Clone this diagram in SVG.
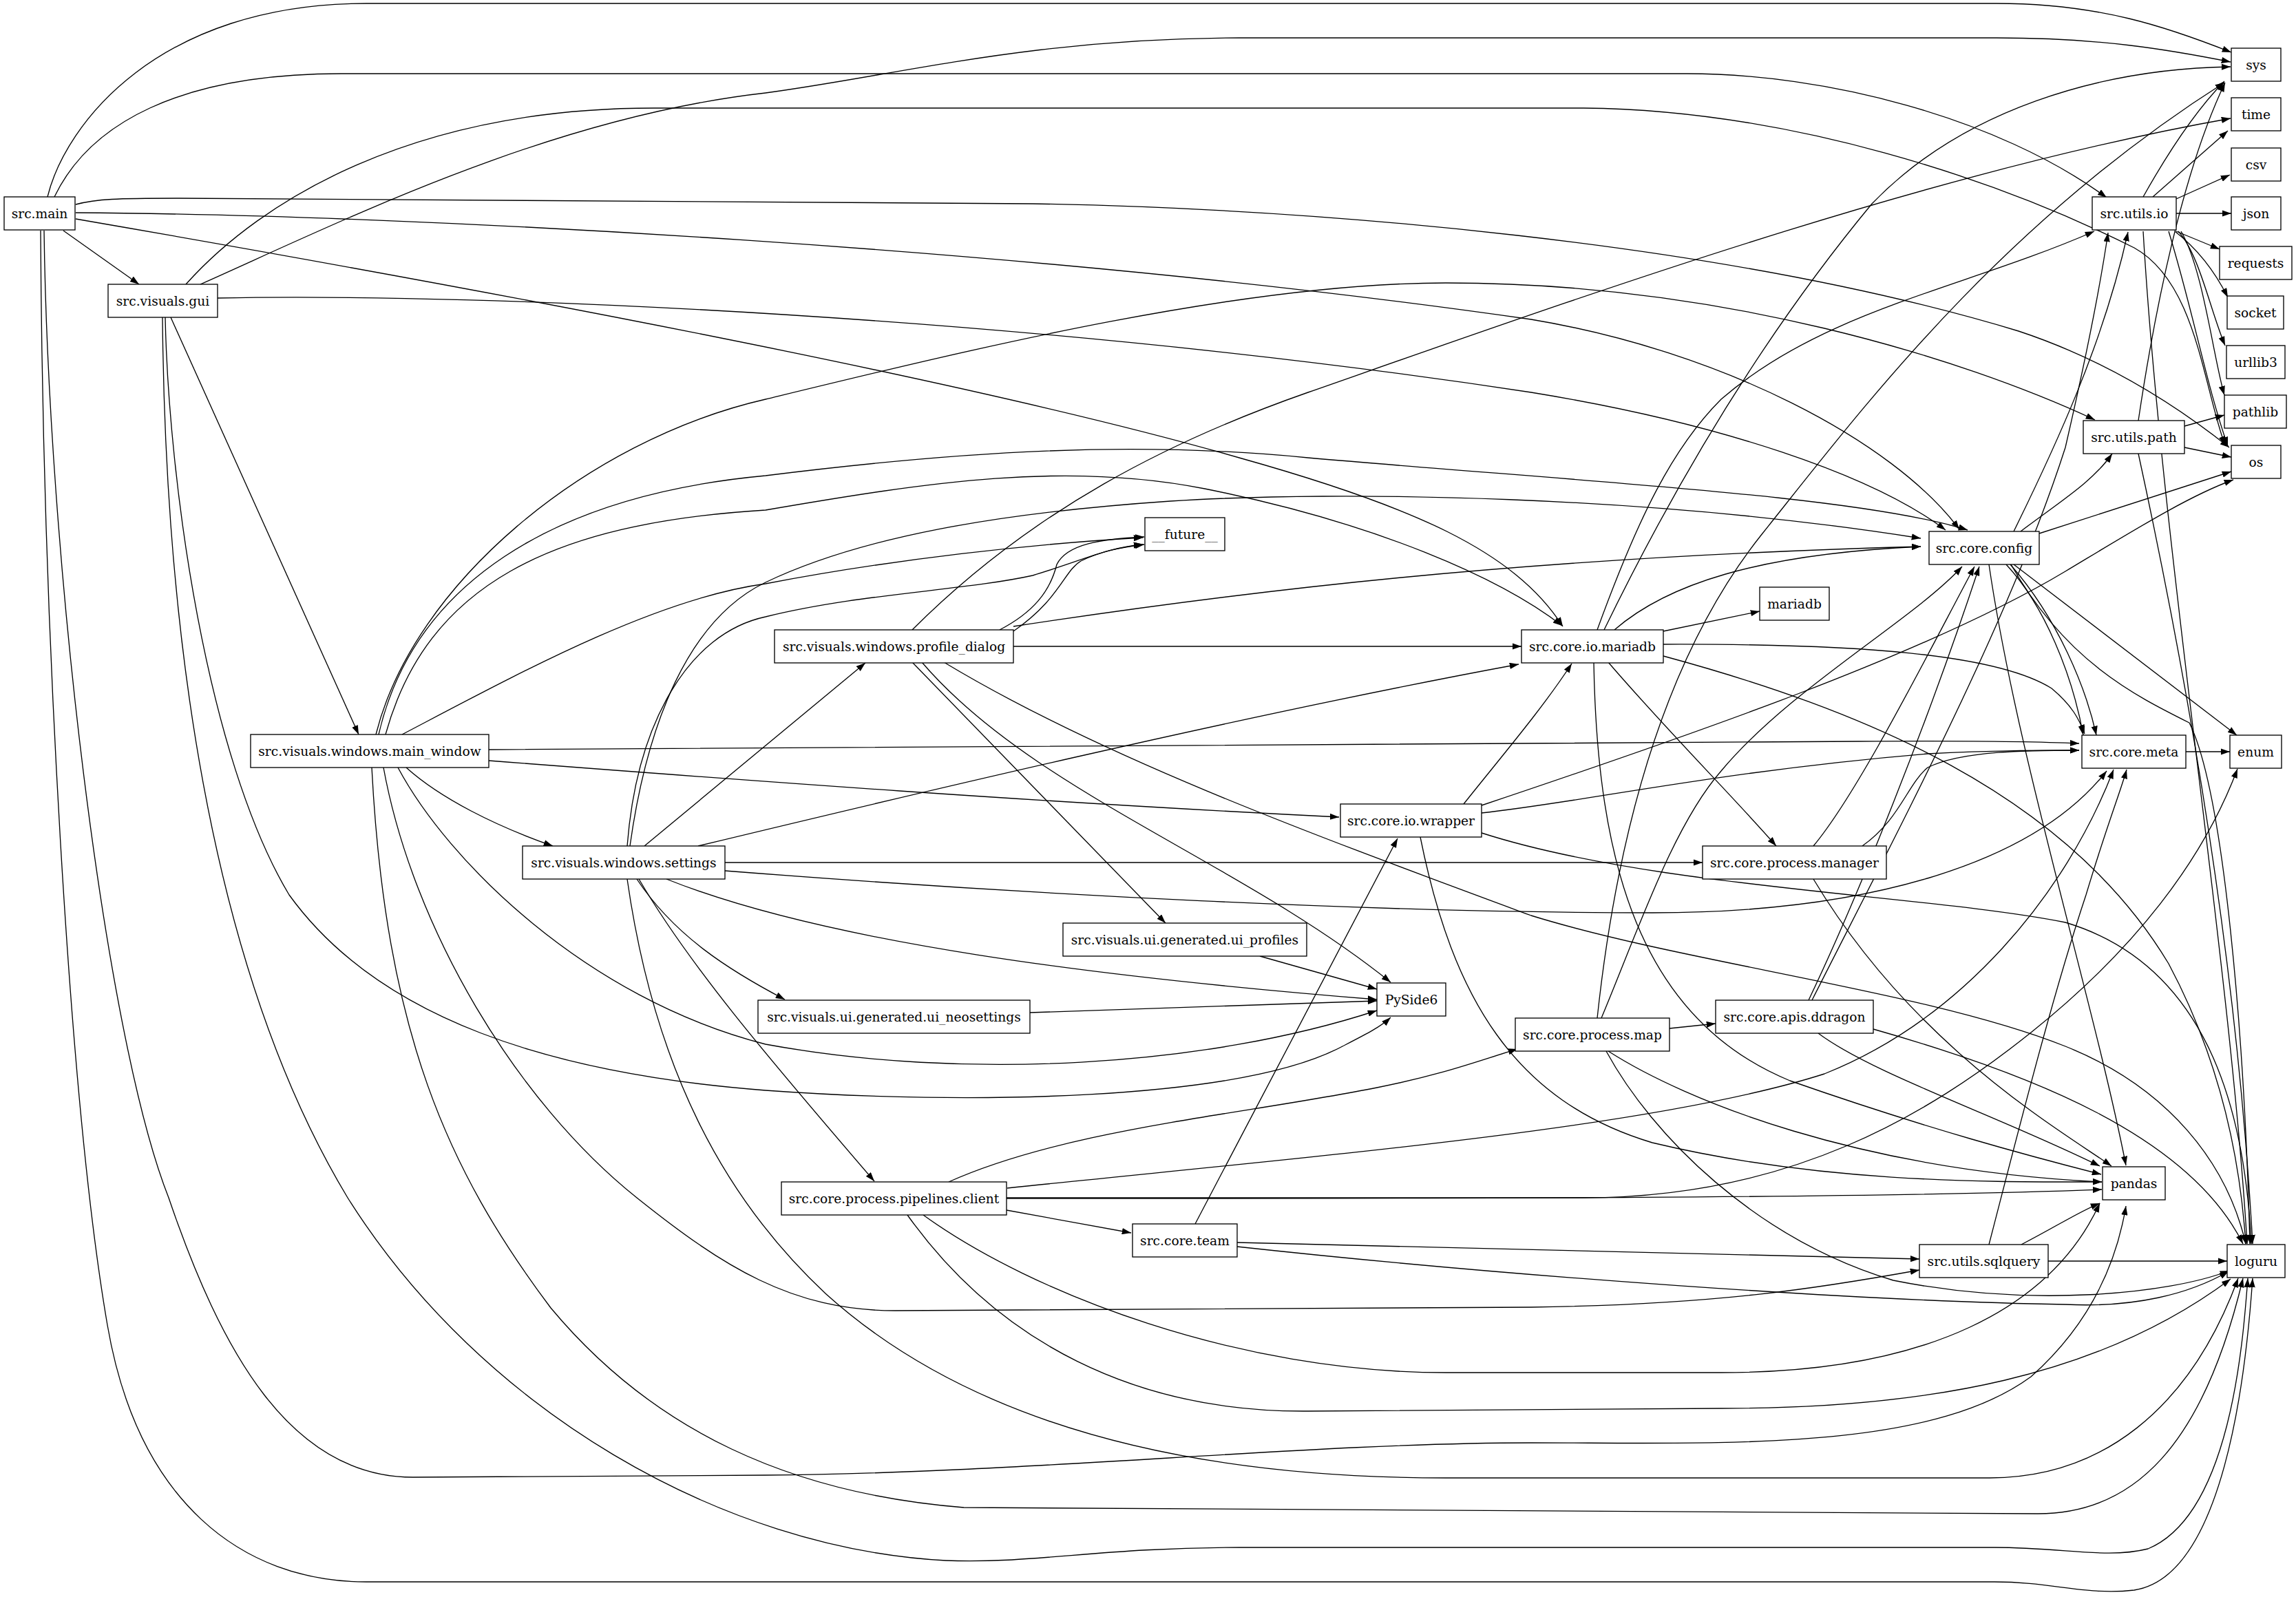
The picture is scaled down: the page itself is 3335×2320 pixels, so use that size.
<svg xmlns="http://www.w3.org/2000/svg" width="3335" height="2320" viewBox="0 0 3335 2320">
<defs>
<marker id="ah" viewBox="0 0 10 7" refX="10" refY="3.5" markerWidth="13.3" markerHeight="9.3" markerUnits="userSpaceOnUse" orient="auto"><path d="M0,0 L10,3.5 L0,7 z" fill="#000"/></marker>
<style>
.n rect{fill:#fff;stroke:#000;stroke-width:1.33}
.n text{font-family:"DejaVu Serif","Liberation Serif",serif;font-size:18.67px;text-anchor:middle;fill:#000}
.e path{fill:none;stroke:#000;stroke-width:1.33;marker-end:url(#ah)}
</style>
</defs>
<rect width="3335" height="2320" fill="#fff"/>
<g id="edges" class="e">
<path d="M69,286 C 95,180 230,5 532,5 L 2900,5 C 3050,5 3150,40 3241,76"/>
<path d="M79,286 C 130,180 260,107 496,107 L 2450,107 C 2650,107 2900,170 3060,287"/>
<path d="M92,335 L 202,413"/>
<path d="M110,318 C 700,420 1400,550 1800,665 C 2050,735 2200,800 2270,910"/>
<path d="M110,309 C 600,312 1500,360 2224,464 C 2500,510 2750,640 2846,769"/>
<path d="M110,297 C 140,289 170,288 260,288 L 1500,296 C 1900,303 2500,350 2932,481 C 3050,520 3150,580 3238,650"/>
<path d="M59,335 C 62,900 100,1600 156,1925 C 200,2180 350,2298 532,2298 L 2897,2298 C 2980,2298 3030,2318 3100,2310 C 3230,2290 3262,2000 3272,1857"/>
<path d="M64,335 C 70,800 150,1500 245,1740 C 320,1960 420,2146 600,2146 L 1112,2143 C 1500,2140 1900,2096 2224,2096 C 2500,2096 2800,2110 2950,2000 C 3040,1920 3075,1830 3088,1752"/>
<path d="M291,413 C 500,320 800,170 1112,135 C 1300,110 1500,55 1800,55 L 2900,55 C 3050,55 3150,72 3240,90"/>
<path d="M270,413 C 380,290 600,157 950,157 L 2300,157 C 2600,160 2900,260 3100,360 C 3190,410 3200,560 3232,647"/>
<path d="M316,433 C 700,425 1500,460 2224,570 C 2500,615 2720,690 2826,770"/>
<path d="M248,461 L 521,1067"/>
<path d="M240,461 C 245,700 300,1100 420,1300 C 550,1480 800,1560 1112,1584 C 1400,1605 1800,1600 1950,1520 C 1985,1502 2005,1492 2020,1478"/>
<path d="M236,461 C 240,900 300,1400 505,1740 C 700,2050 1050,2250 1374,2267 C 1500,2272 1600,2248 1800,2248 L 2897,2248 C 3000,2248 3060,2265 3120,2250 C 3240,2200 3258,1950 3265,1857"/>
<path d="M546,1067 C 600,850 850,640 1112,580 C 1400,510 1800,411 2100,411 C 2500,411 2850,520 3043,610"/>
<path d="M550,1067 C 600,850 800,720 1112,691 C 1400,655 1650,640 1900,665 C 2300,700 2700,720 2858,770"/>
<path d="M560,1067 C 620,850 800,760 1112,741 C 1350,700 1550,670 1750,710 C 2000,760 2180,840 2269,909"/>
<path d="M584,1067 C 750,980 950,870 1112,848 C 1300,812 1500,790 1660,781"/>
<path d="M710,1089 L 2700,1077 C 2850,1076 2950,1077 3020,1080"/>
<path d="M710,1105 C 1100,1135 1500,1165 1945,1187"/>
<path d="M590,1115 C 640,1160 720,1200 803,1229"/>
<path d="M578,1115 C 650,1250 850,1450 1112,1517 C 1400,1570 1750,1550 2000,1468"/>
<path d="M557,1115 C 600,1350 750,1600 925,1740 C 1050,1840 1150,1904 1300,1904 L 2224,1899 C 2500,1895 2650,1870 2788,1845"/>
<path d="M540,1115 C 560,1500 650,1700 800,1900 C 950,2080 1150,2170 1400,2190 L 2960,2199 C 3100,2199 3200,2100 3258,1857"/>
<path d="M936,1229 L 1257,963"/>
<path d="M1014,1229 C 1300,1160 1800,1040 2206,965"/>
<path d="M911,1229 C 925,1050 1000,920 1112,896 C 1250,862 1400,858 1500,836 C 1570,815 1610,795 1660,791"/>
<path d="M915,1229 C 940,1050 1000,900 1112,846 C 1250,780 1450,745 1700,728 C 1950,712 2400,720 2790,782"/>
<path d="M1053,1253 L 2473,1253"/>
<path d="M1053,1265 C 1500,1300 2000,1326 2400,1326 C 2700,1326 2950,1260 3060,1120"/>
<path d="M968,1277 C 1200,1370 1600,1420 2000,1452"/>
<path d="M925,1277 C 980,1360 1060,1410 1140,1452"/>
<path d="M928,1277 C 1000,1400 1110,1530 1270,1716"/>
<path d="M911,1277 C 950,1550 1050,1740 1200,1880 C 1400,2060 1700,2147 2100,2147 L 2890,2147 C 3050,2147 3180,2050 3251,1857"/>
<path d="M1325,915 C 1500,740 1700,640 1900,570 C 2300,430 2800,250 3240,172"/>
<path d="M1452,915 C 1500,890 1525,860 1535,820 C 1550,790 1600,783 1662,780"/>
<path d="M1472,917 C 1540,870 1545,830 1570,815 C 1600,800 1630,795 1662,791"/>
<path d="M1472,910 C 1800,860 2200,810 2790,794"/>
<path d="M1472,939 L 2210,939"/>
<path d="M1325,962 L 1693,1341"/>
<path d="M1339,962 C 1500,1150 1800,1250 2020,1427"/>
<path d="M1371,962 C 1600,1100 1900,1210 2224,1330 C 2450,1400 2800,1440 3000,1520 C 3150,1580 3235,1690 3262,1807"/>
<path d="M2330,915 C 2420,730 2550,500 2719,296 C 2850,160 3050,100 3240,97"/>
<path d="M2320,915 C 2380,750 2430,650 2500,580 C 2650,450 2850,420 3042,336"/>
<path d="M2345,915 C 2420,850 2550,805 2790,794"/>
<path d="M2416,917 L 2556,888"/>
<path d="M2416,936 C 2700,935 2900,950 2980,1000 C 3010,1025 3020,1045 3028,1066"/>
<path d="M2416,953 C 2700,1030 3000,1150 3150,1400 C 3230,1550 3255,1700 3262,1807"/>
<path d="M2336,962 C 2420,1060 2520,1160 2580,1229"/>
<path d="M2315,962 C 2320,1250 2380,1480 2600,1570 C 2800,1640 2950,1680 3052,1706"/>
<path d="M2126,1168 C 2180,1100 2240,1030 2283,964"/>
<path d="M2152,1170 C 2450,1070 2800,950 3000,830 C 3100,770 3180,720 3244,697"/>
<path d="M2152,1181 C 2300,1165 2500,1120 2800,1095 C 2900,1090 2960,1090 3020,1090"/>
<path d="M2152,1210 C 2400,1290 2800,1300 3000,1340 C 3200,1400 3260,1600 3270,1807"/>
<path d="M2063,1216 C 2110,1450 2200,1600 2400,1660 C 2650,1720 2900,1717 3053,1717"/>
<path d="M2634,1229 C 2700,1150 2800,950 2868,823"/>
<path d="M2705,1229 C 2760,1190 2770,1140 2800,1115 C 2850,1090 2950,1090 3020,1090"/>
<path d="M2634,1277 C 2780,1520 2990,1640 3067,1694"/>
<path d="M2320,1479 C 2350,1200 2420,950 2560,775 C 2700,600 2900,330 3231,120"/>
<path d="M2326,1479 C 2380,1350 2430,1200 2500,1120 C 2600,1000 2780,900 2850,823"/>
<path d="M2425,1494 L 2492,1487"/>
<path d="M2336,1527 C 2450,1600 2700,1700 3053,1717"/>
<path d="M2333,1527 C 2400,1650 2550,1800 2750,1860 C 2950,1900 3150,1880 3238,1846"/>
<path d="M2627,1453 C 2700,1300 2800,1050 2875,823"/>
<path d="M2632,1453 C 2760,1200 2920,900 3000,650 C 3030,520 3050,420 3062,338"/>
<path d="M2641,1501 C 2720,1560 2900,1620 3050,1694"/>
<path d="M2721,1495 C 2950,1560 3180,1650 3258,1807"/>
<path d="M1378,1717 C 1550,1640 1800,1620 2000,1580 C 2100,1560 2150,1540 2204,1524"/>
<path d="M1463,1726 C 1900,1680 2400,1640 2650,1560 C 2850,1480 3000,1300 3070,1118"/>
<path d="M1462,1740 L 2300,1740 C 2600,1740 2800,1620 2950,1500 C 3100,1380 3200,1250 3250,1117"/>
<path d="M1462,1758 L 1643,1791"/>
<path d="M1462,1741 C 2000,1741 2700,1742 3053,1728"/>
<path d="M1341,1765 C 1500,1880 1800,1994 2100,1994 L 2500,1994 C 2800,1994 2980,1900 3050,1748"/>
<path d="M1318,1765 C 1450,1950 1650,2052 1900,2050 L 2500,2046 C 2800,2046 3050,2000 3240,1858"/>
<path d="M1736,1778 L 2030,1218"/>
<path d="M1797,1805 C 2200,1815 2500,1822 2788,1829"/>
<path d="M1797,1811 C 2200,1855 2700,1890 3000,1895 C 3100,1900 3180,1880 3237,1847"/>
<path d="M2889,1808 C 2930,1650 2980,1450 3030,1300 C 3060,1200 3080,1150 3089,1118"/>
<path d="M2936,1808 C 2990,1780 3020,1760 3050,1748"/>
<path d="M2975,1832 L 3235,1832"/>
<path d="M3113,286 C 3150,220 3190,160 3231,118"/>
<path d="M3127,286 L 3236,190"/>
<path d="M3161,289 L 3239,254"/>
<path d="M3161,310 L 3241,310"/>
<path d="M3161,336 L 3224,362"/>
<path d="M3159,336 C 3190,360 3215,390 3236,432"/>
<path d="M3164,336 C 3195,370 3210,450 3232,502"/>
<path d="M3168,336 C 3200,390 3215,520 3231,574"/>
<path d="M3150,336 C 3185,450 3205,560 3236,648"/>
<path d="M3113,336 C 3140,800 3240,1400 3264,1807"/>
<path d="M3106,611 C 3130,450 3170,250 3232,120"/>
<path d="M3173,619 L 3231,603"/>
<path d="M3173,650 L 3241,664"/>
<path d="M3106,659 C 3180,1000 3250,1400 3272,1807"/>
<path d="M2925,772 C 2985,650 3055,500 3091,337"/>
<path d="M2935,772 C 2990,730 3040,700 3068,659"/>
<path d="M2962,775 L 3241,685"/>
<path d="M2914,820 C 2970,880 3010,980 3026,1068"/>
<path d="M2920,820 C 2990,900 3030,1000 3045,1068"/>
<path d="M2925,820 L 3249,1068"/>
<path d="M2889,820 C 2930,1100 3040,1450 3088,1693"/>
<path d="M2921,820 C 3000,960 3100,1010 3180,1050 C 3230,1150 3260,1500 3268,1807"/>
<path d="M3175,1092 L 3239,1092"/>
<path d="M1830,1389 L 2000,1437"/>
<path d="M1496,1471 L 2000,1454"/>
</g>
<g id="n_main" class="n"><rect x="6" y="286" width="103" height="48"/><text x="57.5" y="316.5">src.main</text></g>
<g id="n_gui" class="n"><rect x="157" y="413" width="159" height="48"/><text x="236.5" y="443.5">src.visuals.gui</text></g>
<g id="n_main_window" class="n"><rect x="364" y="1067" width="346" height="48"/><text x="537" y="1097.5">src.visuals.windows.main_window</text></g>
<g id="n_settings" class="n"><rect x="759" y="1229" width="294" height="48"/><text x="906" y="1259.5">src.visuals.windows.settings</text></g>
<g id="n_profile_dialog" class="n"><rect x="1125" y="915" width="347" height="48"/><text x="1298.5" y="945.5">src.visuals.windows.profile_dialog</text></g>
<g id="n_future" class="n"><rect x="1663" y="752" width="116" height="48"/><text x="1721" y="782.5">__future__</text></g>
<g id="n_ui_profiles" class="n"><rect x="1544" y="1341" width="354" height="48"/><text x="1721" y="1371.5">src.visuals.ui.generated.ui_profiles</text></g>
<g id="n_ui_neosettings" class="n"><rect x="1101" y="1453" width="395" height="48"/><text x="1298.5" y="1483.5">src.visuals.ui.generated.ui_neosettings</text></g>
<g id="n_client" class="n"><rect x="1135" y="1717" width="327" height="48"/><text x="1298.5" y="1747.5">src.core.process.pipelines.client</text></g>
<g id="n_wrapper" class="n"><rect x="1947" y="1168" width="205" height="48"/><text x="2049.5" y="1198.5">src.core.io.wrapper</text></g>
<g id="n_pyside6" class="n"><rect x="2000" y="1428" width="100" height="48"/><text x="2050" y="1458.5">PySide6</text></g>
<g id="n_team" class="n"><rect x="1645" y="1778" width="152" height="48"/><text x="1721" y="1808.5">src.core.team</text></g>
<g id="n_io_mariadb" class="n"><rect x="2210" y="915" width="206" height="48"/><text x="2313" y="945.5">src.core.io.mariadb</text></g>
<g id="n_map" class="n"><rect x="2201" y="1479" width="224" height="48"/><text x="2313" y="1509.5">src.core.process.map</text></g>
<g id="n_mariadb" class="n"><rect x="2556" y="853" width="101" height="48"/><text x="2606.5" y="883.5">mariadb</text></g>
<g id="n_manager" class="n"><rect x="2473" y="1229" width="267" height="48"/><text x="2606.5" y="1259.5">src.core.process.manager</text></g>
<g id="n_ddragon" class="n"><rect x="2492" y="1453" width="229" height="48"/><text x="2606.5" y="1483.5">src.core.apis.ddragon</text></g>
<g id="n_config" class="n"><rect x="2802" y="772" width="160" height="48"/><text x="2882" y="802.5">src.core.config</text></g>
<g id="n_sqlquery" class="n"><rect x="2788" y="1808" width="187" height="48"/><text x="2881.5" y="1838.5">src.utils.sqlquery</text></g>
<g id="n_utils_io" class="n"><rect x="3039" y="286" width="122" height="48"/><text x="3100" y="316.5">src.utils.io</text></g>
<g id="n_utils_path" class="n"><rect x="3026" y="611" width="147" height="48"/><text x="3099.5" y="641.5">src.utils.path</text></g>
<g id="n_meta" class="n"><rect x="3024" y="1068" width="151" height="48"/><text x="3099.5" y="1098.5">src.core.meta</text></g>
<g id="n_pandas" class="n"><rect x="3054" y="1695" width="91" height="48"/><text x="3099.5" y="1725.5">pandas</text></g>
<g id="n_sys" class="n"><rect x="3241" y="70" width="72" height="48"/><text x="3277" y="100.5">sys</text></g>
<g id="n_time" class="n"><rect x="3241" y="142" width="72" height="48"/><text x="3277" y="172.5">time</text></g>
<g id="n_csv" class="n"><rect x="3241" y="215" width="72" height="48"/><text x="3277" y="245.5">csv</text></g>
<g id="n_json" class="n"><rect x="3241" y="286" width="72" height="48"/><text x="3277" y="316.5">json</text></g>
<g id="n_requests" class="n"><rect x="3224" y="358" width="105" height="48"/><text x="3276.5" y="388.5">requests</text></g>
<g id="n_socket" class="n"><rect x="3235" y="430" width="82" height="48"/><text x="3276" y="460.5">socket</text></g>
<g id="n_urllib3" class="n"><rect x="3234" y="502" width="85" height="48"/><text x="3276.5" y="532.5">urllib3</text></g>
<g id="n_pathlib" class="n"><rect x="3231" y="574" width="90" height="48"/><text x="3276" y="604.5">pathlib</text></g>
<g id="n_os" class="n"><rect x="3241" y="647" width="72" height="48"/><text x="3277" y="677.5">os</text></g>
<g id="n_enum" class="n"><rect x="3239" y="1068" width="75" height="48"/><text x="3276.5" y="1098.5">enum</text></g>
<g id="n_loguru" class="n"><rect x="3235" y="1808" width="84" height="48"/><text x="3277" y="1838.5">loguru</text></g>
</svg>
